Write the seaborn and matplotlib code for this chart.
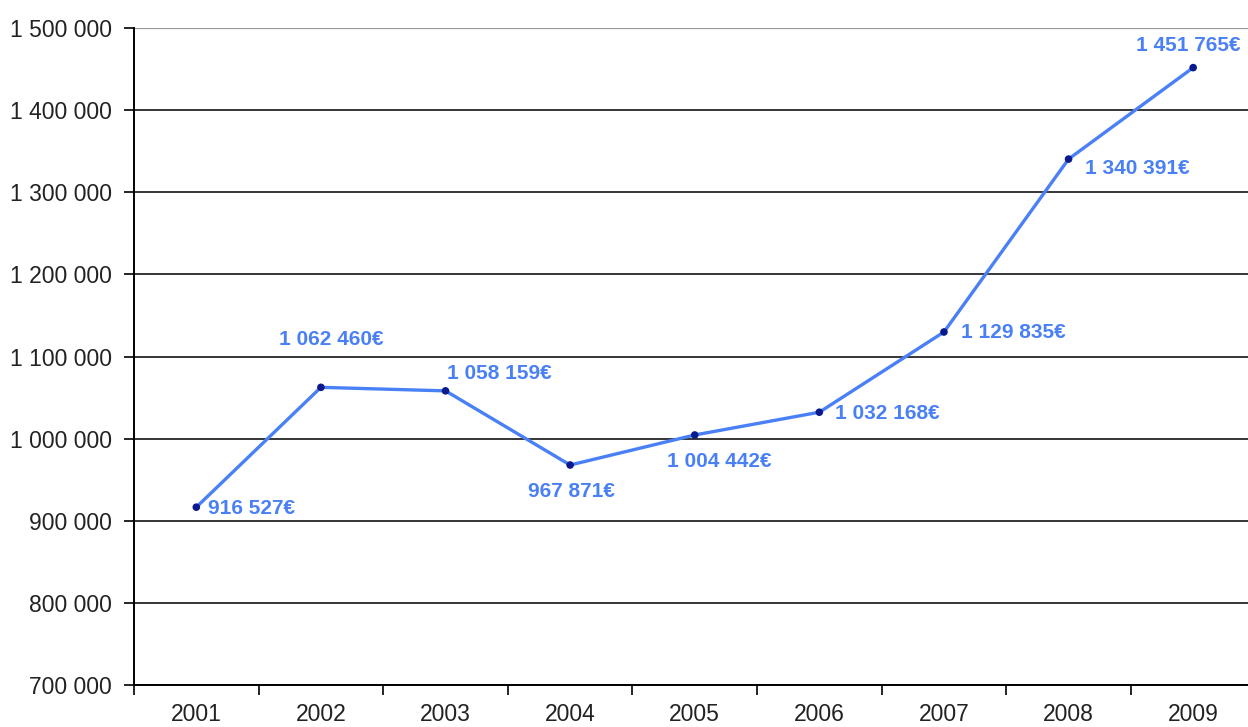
import numpy as np
import pandas as pd
import matplotlib
matplotlib.use("Agg")
import matplotlib.pyplot as plt
from matplotlib.ticker import FixedLocator, FuncFormatter
import seaborn as sns

years = ["2001", "2002", "2003", "2004", "2005", "2006", "2007", "2008", "2009"]
revenue = [916527, 1062460, 1058159, 967871, 1004442, 1032168, 1129835, 1340391, 1451765]

sns.set_theme(style="white")
plt.rcParams['font.family'] = ['Liberation Sans', 'DejaVu Sans']

df = pd.DataFrame({"year": years, "revenue": revenue})
df["pos"] = np.arange(len(years))

fig = plt.figure(figsize=(12.48, 7.27), dpi=100)
ax = fig.add_axes([134 / 1248, 42 / 727, 1 - 134 / 1248, 657 / 727])

sns.lineplot(data=df, x="pos", y="revenue", ax=ax, color="#4a80f5", lw=2.4, zorder=3)
sns.scatterplot(data=df, x="pos", y="revenue", ax=ax, color="#0a1a8c", s=30,
                edgecolor="none", zorder=4)

ax.set_ylim(700000, 1500000)
ax.set_xlim(-0.5, 8.44)
ax.set_yticks(np.arange(700000, 1500001, 100000))
ax.yaxis.set_major_formatter(FuncFormatter(lambda v, p: f"{int(v):,}".replace(",", " ")))
ax.set_xticks(df["pos"])
ax.set_xticklabels(years)
ax.xaxis.set_minor_locator(FixedLocator(np.arange(-0.5, 8.5, 1)))
ax.tick_params(axis="x", which="major", length=0, pad=13, labelsize=16.5, colors="#222222")
ax.tick_params(axis="x", which="minor", length=7, width=1.2, color="black", direction="out", bottom=True)
ax.tick_params(axis="y", length=7, width=1.2, color="black", direction="out", left=True,
               labelsize=16.5, labelcolor="#222222", pad=9)
ax.set_xlabel("")
ax.set_ylabel("")

ax.yaxis.grid(True, color="black", lw=1.1)
gl = ax.get_ygridlines()
gl[-1].set_color("#999999")
gl[-1].set_linewidth(1.6)
ax.set_axisbelow(True)

for s in ["top", "right"]:
    ax.spines[s].set_visible(False)
for s in ["left", "bottom"]:
    ax.spines[s].set_color("black")
    ax.spines[s].set_linewidth(1.4)

# label offsets in pixels (dx, dy, ha)
offsets = [(12, -1, "left"), (10, 48, "center"), (1, 17, "left"), (1, -26, "center"),
           (25, -27, "center"), (16, -1, "left"), (17, -1, "left"), (16, -9, "left"),
           (-5, 22, "center")]
for i, v in enumerate(revenue):
    dx, dy, ha = offsets[i]
    ax.annotate(f"{v:,}€".replace(",", " "), (i, v), xytext=(dx, dy),
                textcoords="offset pixels", ha=ha, va="center",
                fontsize=15, fontweight="bold", color="#4a80f5", zorder=5)

fig.savefig("out.png", dpi=100)
